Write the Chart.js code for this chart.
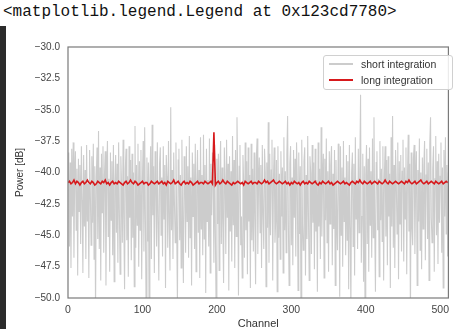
<!DOCTYPE html>
<html>
<head>
<meta charset="utf-8">
<script src="https://cdn.jsdelivr.net/npm/chart.js@4.4.0/dist/chart.umd.min.js"></script>
<style>
    body { margin: 0; background: #fff; width: 455px; height: 329px; overflow: hidden; position: relative; }
    #out { position: absolute; left: 3px; top: 3px; font-family: "Liberation Mono", monospace; font-size: 16px; line-height: 18px; color: #111; white-space: pre; }
    #strip { position: absolute; left: 0; top: 26px; width: 6px; height: 303px; background: #2b2b2b; }
    #chart1 { position: absolute; left: 0; top: 0; }
    #legend { position: absolute; left: 323px; top: 55px; width: 128px; height: 33px; border: 1px solid #d0d0d0; border-radius: 3px; background: rgba(255,255,255,0.85); font-family: "Liberation Sans", Arial, sans-serif; font-size: 10.5px; color: #333; }
    #legend .row { position: absolute; left: 0; height: 14px; line-height: 14px; }
    #legend .swatch { position: absolute; left: 5px; top: 6px; width: 24px; height: 2px; }
    #legend .txt { position: absolute; left: 37px; top: 0; white-space: nowrap; }
</style>
</head>
<body>
<div id="out">&lt;matplotlib.legend.Legend at 0x123cd7780&gt;</div>
<div id="strip"></div>
<canvas id="chart1" width="455" height="329"></canvas>
<div id="legend">
    <div class="row" style="top:1px"><div class="swatch" style="background:#cccccc"></div><div class="txt">short integration</div></div>
    <div class="row" style="top:17px"><div class="swatch" style="background:#d7191c"></div><div class="txt">long integration</div></div>
</div>
<script>
// potência por canal (dB), integração curta: um valor por canal 0..511
const shortIntegration = [
    -40.6,-38.4,-45.9,-39.2,-47.6,-38.1,-43.5,-37.6,-46.8,-40.1,-38.3,-44.6,-39.7,-48.2,-38.9,-43.1,
    -39.4,-45.7,-37.9,-42.2,-48.0,-38.6,-44.3,-39.8,-46.9,-37.8,-43.9,-40.9,-48.4,-38.2,-41.6,-45.8,
    -38.7,-44.0,-37.7,-46.9,-39.5,-51.0,-40.4,-38.0,-45.3,-36.7,-46.1,-39.6,-48.6,-38.5,-43.2,-37.9,
    -46.4,-40.2,-38.3,-49.0,-39.9,-37.5,-45.1,-40.5,-47.9,-38.4,-43.8,-39.1,-46.6,-37.8,-48.7,-40.8,
    -38.6,-44.8,-39.3,-47.2,-37.6,-43.0,-48.1,-38.7,-41.2,-45.6,-37.4,-44.1,-49.3,-39.7,-38.1,-45.4,
    -40.3,-48.3,-37.9,-43.6,-39.0,-47.0,-38.5,-45.2,-40.0,-49.1,-36.3,-46.0,-39.4,-44.2,-37.7,-47.5,
    -39.1,-44.6,-38.2,-48.5,-40.6,-37.5,-46.3,-36.4,-43.9,-51.5,-38.8,-45.5,-39.2,-52.0,-40.7,-37.9,
    -46.9,-36.2,-43.4,-39.5,-48.0,-38.3,-41.0,-45.9,-37.6,-44.0,-48.6,-39.3,-38.0,-45.0,-40.4,-46.7,
    -37.9,-43.7,-39.4,-49.2,-38.6,-40.3,-46.0,-37.5,-44.2,-47.8,-34.8,-44.6,-39.8,-46.9,-38.4,-42.5,
    -45.6,-37.6,-44.2,-50.6,-39.0,-38.1,-45.4,-40.2,-47.6,-37.4,-43.8,-48.8,-38.7,-40.6,-46.4,-37.9,
    -43.9,-39.5,-46.8,-37.1,-45.2,-40.4,-49.0,-38.4,-43.5,-39.3,-46.1,-37.7,-47.9,-40.8,-38.2,-44.8,
    -39.8,-48.4,-37.2,-44.5,-40.2,-46.6,-37.0,-45.3,-39.4,-49.6,-38.1,-43.9,-40.6,-45.9,-37.3,-48.0,
    -39.3,-43.4,-38.4,-40.6,-47.2,-37.8,-45.0,-51.2,-38.9,-44.1,-38.5,-47.8,-40.0,-37.5,-45.7,-39.6,
    -44.3,-48.8,-38.0,-40.7,-46.5,-37.4,-43.6,-39.3,-49.4,-38.7,-44.7,-39.9,-47.1,-37.1,-44.2,-39.0,
    -47.6,-38.2,-45.1,-35.6,-40.4,-49.8,-39.5,-37.8,-45.8,-43.5,-48.4,-38.6,-40.9,-46.8,-37.6,-44.6,
    -39.1,-48.1,-38.0,-43.9,-40.2,-49.2,-37.7,-45.4,-39.7,-46.3,-38.4,-43.7,-48.9,-38.9,-37.3,-46.5,
    -40.6,-38.8,-44.8,-39.4,-47.6,-37.8,-43.4,-46.1,-38.1,-40.0,-49.1,-39.2,-44.4,-36.0,-47.2,-38.5,
    -45.0,-39.8,-37.4,-48.6,-40.5,-38.0,-45.6,-43.8,-39.0,-49.5,-37.9,-45.2,-40.1,-46.9,-38.3,-43.5,
    -39.6,-48.0,-37.2,-44.6,-39.9,-46.4,-38.6,-35.5,-44.0,-49.0,-39.3,-37.9,-45.8,-40.4,-47.4,-38.2,
    -43.6,-38.9,-46.7,-37.6,-40.7,-49.4,-38.4,-44.9,-39.5,-51.3,-37.4,-44.1,-46.2,-39.1,-38.0,-48.2,
    -40.2,-45.3,-37.1,-43.4,-48.6,-38.7,-40.0,-46.5,-37.8,-44.0,-39.2,-47.7,-38.1,-44.7,-40.6,-49.5,
    -37.6,-44.3,-39.7,-46.9,-36.4,-45.1,-40.3,-38.5,-48.4,-38.9,-43.8,-37.3,-45.6,-39.9,-47.9,-38.3,
    -44.1,-39.4,-37.9,-47.4,-40.1,-44.5,-38.2,-49.0,-39.0,-43.6,-46.2,-37.7,-40.5,-49.9,-37.9,-45.0,
    -39.6,-47.5,-37.5,-43.9,-40.4,-46.6,-38.6,-45.4,-39.1,-49.3,-37.8,-44.4,-50.7,-40.0,-38.4,-45.9,
    -39.3,-48.2,-37.2,-43.7,-40.7,-46.1,-38.1,-44.8,-39.8,-33.8,-47.2,-43.5,-38.5,-48.7,-39.5,-51.4,
    -40.2,-37.8,-45.7,-38.9,-47.9,-38.0,-44.2,-39.9,-46.8,-37.3,-45.2,-35.6,-44.0,-49.5,-39.2,-38.3,
    -44.6,-40.5,-48.3,-37.5,-43.8,-39.7,-45.5,-37.9,-48.6,-40.3,-37.9,-45.1,-39.0,-47.4,-38.7,-43.5,
    -40.1,-49.2,-37.2,-44.3,-35.5,-46.0,-39.4,-47.6,-38.2,-40.8,-44.9,-37.6,-48.5,-39.1,-44.1,-38.6,
    -46.3,-39.9,-37.4,-47.1,-39.6,-43.7,-38.0,-48.1,-40.4,-37.0,-44.7,-39.3,-51.6,-38.4,-44.4,-45.8,
    -38.9,-37.8,-46.5,-40.6,-38.3,-49.0,-39.8,-43.9,-37.3,-46.2,-40.0,-47.7,-38.8,-44.5,-39.5,-37.5,
    -47.0,-40.2,-38.1,-45.3,-39.2,-48.6,-37.7,-35.6,-43.6,-45.6,-39.7,-37.9,-47.9,-40.5,-37.1,-45.0,
    -39.1,-47.3,-38.5,-44.0,-40.3,-37.6,-46.4,-39.6,-49.2,-38.2,-43.5,-37.2,-44.9,-39.4,-46.7,-40.0
];

// integração longa: um valor a cada 2 canais (0, 2, 4 ... 510)
const longStep = 2;
const longIntegration = [
    -40.8,-40.7,-40.9,-40.8,-40.6,-40.9,-40.7,-40.8,-41.0,-40.8,-40.7,-40.9,-40.8,-40.6,-40.8,-40.9,
    -40.7,-40.8,-41.0,-40.9,-40.7,-40.8,-40.9,-40.7,-40.8,-40.6,-40.9,-40.8,-41.0,-40.8,-40.7,-40.9,
    -40.8,-40.9,-40.7,-40.8,-40.9,-41.0,-40.8,-40.7,-40.9,-40.8,-40.6,-40.8,-40.9,-40.7,-40.8,-41.0,
    -40.9,-40.8,-40.7,-40.9,-40.8,-40.8,-41.0,-40.9,-40.7,-40.8,-40.9,-40.8,-40.7,-40.9,-40.8,-40.7,
    -40.9,-40.8,-41.0,-40.7,-40.8,-40.9,-40.8,-40.6,-40.9,-40.8,-40.7,-40.9,-41.0,-40.8,-40.7,-40.9,
    -40.8,-40.9,-40.7,-40.8,-41.0,-40.9,-40.8,-40.7,-40.9,-40.8,-40.8,-40.9,-40.7,-40.8,-40.9,-40.8,
    -40.7,-40.9,-36.8,-41.0,-40.8,-40.7,-40.9,-40.8,-40.6,-40.8,-40.9,-40.7,-40.8,-40.9,-41.0,-40.8,
    -40.9,-40.8,-40.7,-40.8,-40.9,-40.8,-41.0,-40.7,-40.8,-40.9,-40.8,-40.7,-40.9,-40.8,-40.8,-40.9,
    -40.7,-40.8,-40.9,-40.8,-40.6,-40.8,-40.7,-40.9,-40.8,-40.7,-40.6,-40.8,-40.9,-40.8,-40.7,-40.8,
    -40.9,-40.8,-40.7,-40.9,-40.8,-41.0,-40.8,-40.9,-40.7,-40.8,-40.9,-40.8,-41.0,-40.8,-40.7,-40.9,
    -40.8,-40.9,-40.7,-40.8,-40.9,-40.8,-40.7,-40.9,-41.0,-40.8,-40.9,-40.7,-40.8,-40.9,-40.8,-40.7,
    -40.9,-40.8,-41.0,-40.9,-40.8,-40.7,-40.8,-40.9,-40.8,-40.7,-40.9,-40.8,-40.9,-41.0,-40.8,-40.7,
    -40.8,-40.9,-40.7,-40.8,-40.6,-40.8,-40.9,-40.7,-40.8,-40.9,-40.8,-40.7,-40.9,-40.8,-40.7,-40.8,
    -40.9,-40.7,-40.8,-40.9,-40.8,-40.6,-40.8,-40.9,-40.7,-40.8,-40.9,-40.8,-40.7,-40.8,-40.9,-40.8,
    -40.7,-40.8,-40.9,-40.7,-40.8,-40.6,-40.8,-40.9,-40.8,-40.7,-40.9,-40.8,-40.7,-40.6,-40.8,-40.9,
    -40.8,-40.7,-40.9,-40.8,-40.7,-40.8,-40.9,-40.7,-40.8,-40.9,-40.8,-40.7,-40.9,-40.8,-40.7,-40.8
];

const channelMin = 0;
const channelMax = 511;
const channelTicks = [0, 100, 200, 300, 400, 500];
const powerTicks = [-50.0, -47.5, -45.0, -42.5, -40.0, -37.5, -35.0, -32.5, -30.0];

const fontFam = '"Liberation Sans", Arial, sans-serif';

// moldura em volta da área do gráfico
const frame = {
    id: 'frame',
    afterDraw(chart) {
        const a = chart.chartArea;
        const ctx = chart.ctx;
        ctx.save();
        ctx.strokeStyle = '#7a7a7a';
        ctx.lineWidth = 1.2;
        ctx.strokeRect(a.left, a.top, a.right - a.left, a.bottom - a.top);
        ctx.restore();
    }
};

var ctx1 = document.getElementById("chart1").getContext("2d");
var chart1 = new Chart(ctx1, {
    type: "line",
    data: {
        datasets: [
            {
                label: "short integration",
                data: shortIntegration.map((v, i) => ({ x: i, y: v })),
                borderColor: "#cccccc",
                borderWidth: 1.1,
                pointRadius: 0,
                tension: 0,
                order: 2,
            },
            {
                label: "long integration",
                data: longIntegration.map((v, i) => ({ x: i * longStep, y: v })),
                borderColor: "#d7191c",
                borderWidth: 1.6,
                pointRadius: 0,
                tension: 0,
                order: 1,
            },
        ],
    },
    options: {
        responsive: false,
        animation: false,
        devicePixelRatio: 1,
        layout: { padding: { top: 47, right: 1, left: 0, bottom: 0 } },
        plugins: { legend: { display: false }, tooltip: { enabled: false } },
        scales: {
            x: {
                type: "linear",
                min: channelMin,
                max: channelMax,
                afterFit: s => { s.height = 31; },
                afterBuildTicks: s => { s.ticks = channelTicks.map(v => ({ value: v })); },
                grid: { display: false, drawTicks: false },
                border: { display: false },
                ticks: { padding: 6, color: "#444", font: { family: fontFam, size: 10.5 } },
                title: { display: true, text: "Channel", color: "#333", padding: 0, font: { family: fontFam, size: 11, lineHeight: 1 } },
            },
            y: {
                min: -50,
                max: -30,
                afterFit: s => { s.width = 68; },
                afterBuildTicks: s => { s.ticks = powerTicks.map(v => ({ value: v })); },
                grid: { display: false, drawTicks: false },
                border: { display: false },
                ticks: {
                    padding: 8, color: "#444", font: { family: fontFam, size: 10 },
                    callback: v => v.toFixed(1).replace('-', '\u2212'),
                },
                title: { display: true, text: "Power [dB]", color: "#333", padding: { top: 14, bottom: 0 }, font: { family: fontFam, size: 10 } },
            },
        },
    },
    plugins: [frame],
});
</script>
</body>
</html>
